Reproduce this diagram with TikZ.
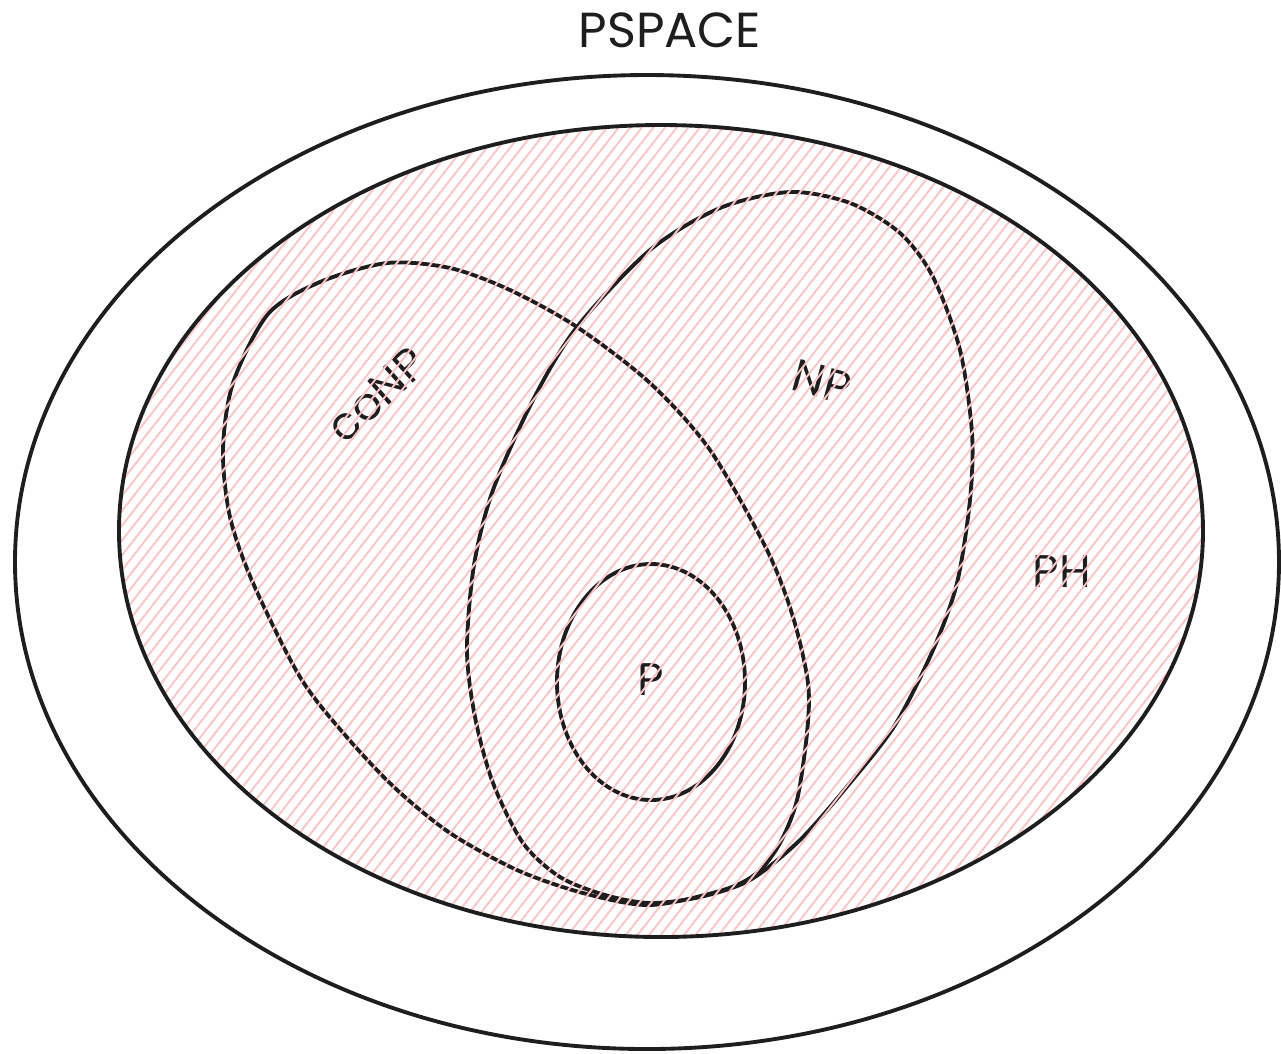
\documentclass[tikz,border=0pt]{standalone}
\usepackage{fontspec}
\setmainfont{Poppins}
\usetikzlibrary{patterns.meta}
\definecolor{ink}{HTML}{1E1E1E}
\definecolor{hatch}{HTML}{FFC4C4}

\begin{document}
\begin{tikzpicture}[
        x=0.01cm, y=-0.01cm,
        outline/.style={draw=ink, line width=1.1pt, line join=round},
        hachure/.style={pattern={Lines[angle=52, distance=2.6pt, line width=0.55pt]}, pattern color=hatch},
        setname/.style={text=ink, inner sep=1pt, font=\fontsize{13}{15}\selectfont}
    ]
    \useasboundingbox (0,0) rectangle (1281,1053);

    % coNP and NP
    \draw[outline] plot[smooth cycle] coordinates {
        (268,314) (320,282) (387,263) (450,268) (510,290) (577,327) (650,383)
        (710,450) (767,550) (793,617) (808,683) (807,733) (797,800) (780,843)
        (757,873) (723,890) (650,905) (583,893) (517,870) (450,833) (395,788)
        (345,735) (300,677) (253,583) (230,517) (223,450) (233,383)};
    \draw[outline] plot[smooth cycle] coordinates {
        (790,192) (850,203) (900,233) (933,277) (960,350) (972,433) (970,500)
        (957,583) (933,650) (895,725) (850,783) (800,840) (750,880) (700,897)
        (650,903) (605,895) (560,877) (523,843) (493,783) (475,717) (467,650)
        (474,565) (493,490) (533,400) (577,327) (650,250) (720,208)};
    \draw[outline] (651,682) ellipse [x radius=94, y radius=118];

    \node[setname, rotate=42] (conp) at (377,395) {coNP};
    \node[setname, rotate=-15] (np) at (822,382) {NP};
    \node[setname] (p) at (651,680) {P};
    \node[setname] (ph) at (1062,572) {PH};

    % PH
    \path[hachure] (661,531) ellipse [x radius=542, y radius=406];
    \draw[outline] (661,531) ellipse [x radius=542, y radius=406];

    % PSPACE
    \draw[outline] (647,562) ellipse [x radius=632, y radius=487];
    \node[setname, font=\fontsize{14}{16}\selectfont] (pspace) at (670,30) {PSPACE};
\end{tikzpicture}
\end{document}
